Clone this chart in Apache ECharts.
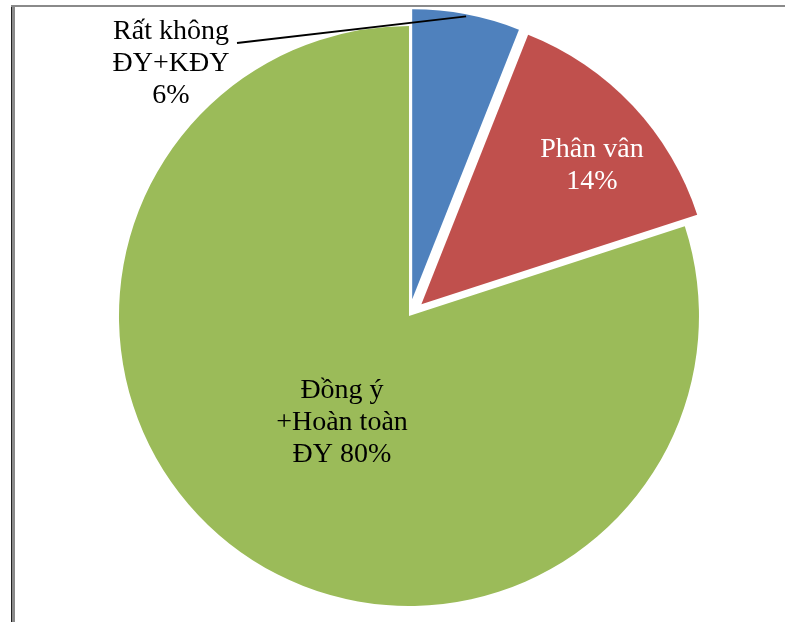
<!DOCTYPE html>
<html>
<head>
<meta charset="utf-8">
<script src="https://cdn.jsdelivr.net/npm/echarts@6/dist/echarts.min.js"></script>
<style>
  html, body { margin: 0; padding: 0; background: #fff; }
  #chart { width: 785px; height: 622px; }
</style>
</head>
<body>
<div id="chart"></div>
<script>
// Survey answers, share of respondents (%)
const categories = ['Rất không\nĐY+KĐY', 'Phân vân', 'Đồng ý\n+Hoàn toàn\nĐY'];
const shares = [6, 14, 80];
const colors = ['#4f81bd', '#c0504d', '#9bbb59'];
const pulledOut = [true, true, false];

// where each label block sits (centre), in page pixels
const labelSpots = [[171, 64], [592, 166], [342, 423]];
const leaderEnd = [237, 43];
const pieCenter = [0.521, 0.508];
const pieRadius = 290;
const pullDistance = 17;

const chart = echarts.init(document.getElementById('chart'), null, { renderer: 'canvas' });

const total = shares.reduce((s, v) => s + v, 0);
// mid angle of a slice, radians clockwise from 12 o'clock
function midAngle(i) {
  let before = 0;
  for (let k = 0; k < i; k++) before += shares[k];
  return (before + shares[i] / 2) / total * 2 * Math.PI;
}
// point on the outer rim of a slice at its mid angle, including its pull-out
function rimPoint(i) {
  const a = midAngle(i);
  const cx = pieCenter[0] * chart.getWidth();
  const cy = pieCenter[1] * chart.getHeight();
  const d = pieRadius + (pulledOut[i] ? pullDistance : 0) - 2;
  return [cx + Math.sin(a) * d, cy - Math.cos(a) * d];
}

// slices
const sliceData = categories.map((name, i) => ({
  name: name,
  value: shares[i],
  selected: pulledOut[i],
  itemStyle: { color: colors[i] }
}));

// text for each slice
const labelData = categories.map((name, i) => ({
  name: name,
  value: shares[i],
  label: {
    position: i === 0 ? 'outside' : 'inside',
    color: i === 1 ? '#ffffff' : '#000000',
    formatter: i === 2 ? '{b} {c}%' : '{b}\n{c}%'
  },
  labelLine: { show: i === 0 }
}));

const centerPct = [pieCenter[0] * 100 + '%', pieCenter[1] * 100 + '%'];

chart.setOption({
  animation: false,
  graphic: [
    { type: 'rect', shape: { x: 11, y: 5, width: 1, height: 617 }, style: { fill: '#222' }, silent: true },
    { type: 'rect', shape: { x: 12, y: 5, width: 3, height: 617 }, style: { fill: '#8a8a8a' }, silent: true },
    { type: 'rect', shape: { x: 11, y: 5, width: 774, height: 2 }, style: { fill: '#8a8a8a' }, silent: true }
  ],
  series: [{
    type: 'pie',
    z: 2,
    center: centerPct,
    radius: pieRadius,
    startAngle: 90,
    clockwise: true,
    selectedMode: 'multiple',
    selectedOffset: pullDistance,
    silent: true,
    label: { show: false },
    labelLine: { show: false },
    emphasis: { disabled: true },
    data: sliceData
  }, {
    type: 'pie',
    z: 5,
    center: centerPct,
    radius: pieRadius,
    startAngle: 90,
    clockwise: true,
    selectedMode: false,
    avoidLabelOverlap: false,
    silent: true,
    itemStyle: { color: 'rgba(0,0,0,0)', borderWidth: 0 },
    emphasis: { disabled: true },
    label: {
      fontFamily: 'Liberation Serif',
      fontSize: 28,
      lineHeight: 32,
      align: 'center'
    },
    labelLine: {
      lineStyle: { color: '#000', width: 2 }
    },
    labelLayout: function (p) {
      const spot = labelSpots[p.dataIndex];
      const out = { x: spot[0], y: spot[1], align: 'center', verticalAlign: 'middle' };
      if (p.dataIndex === 0) {
        const start = rimPoint(0);
        out.labelLinePoints = [start, start, leaderEnd];
      }
      return out;
    },
    data: labelData
  }]
});
</script>
</body>
</html>
